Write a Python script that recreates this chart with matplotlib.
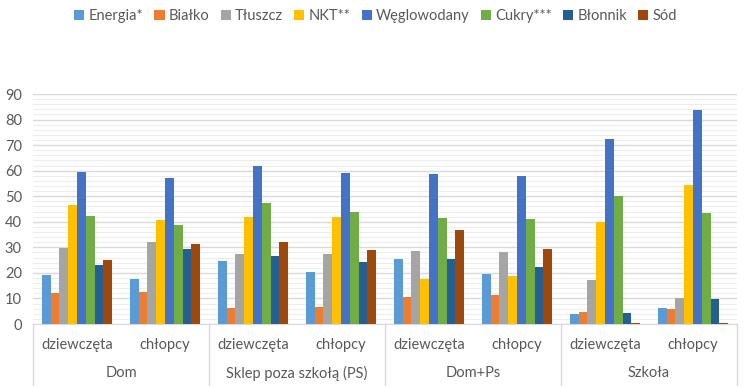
import numpy as np
import matplotlib
matplotlib.use("Agg")
import matplotlib.pyplot as plt
from matplotlib.ticker import MultipleLocator

plt.rcParams.update({
    "font.size": 10,
    "font.family": ["Lato", "DejaVu Sans"],
})

# -------- data --------
groups = ["Dom", "Sklep poza szkołą (PS)", "Dom+Ps", "Szkoła"]
subgroups = ["dziewczęta", "chłopcy"]
series_names = ["Energia*", "Białko", "Tłuszcz", "NKT**", "Węglowodany",
                "Cukry***", "Błonnik", "Sód"]

# one list per series, 8 values: (Dom d, Dom c, PS d, PS c, Dom+Ps d, Dom+Ps c, Szkoła d, Szkoła c)
energia = [19.0, 17.8, 24.8, 20.5, 25.4, 19.4, 4.0, 6.3]
bialko = [12.0, 12.6, 6.2, 6.5, 10.5, 11.5, 4.8, 5.8]
tluszcz = [29.8, 32.0, 27.3, 27.5, 28.4, 28.1, 17.4, 10.0]
nkt = [46.6, 40.8, 41.8, 41.8, 17.8, 18.9, 39.8, 54.4]
weglowodany = [59.6, 57.0, 62.0, 59.1, 58.6, 57.9, 72.4, 83.7]
cukry = [42.2, 38.7, 47.4, 43.9, 41.6, 40.9, 49.9, 43.5]
blonnik = [23.0, 29.4, 26.7, 24.1, 25.5, 22.4, 4.5, 9.9]
sod = [25.1, 31.4, 32.0, 29.0, 36.8, 29.3, 0.3, 0.3]

values = [energia, bialko, tluszcz, nkt, weglowodany, cukry, blonnik, sod]
colors = ["#5B9BD5", "#ED7D31", "#A5A5A5", "#FFC000", "#4472C4",
          "#70AD47", "#255E91", "#9E480E"]

text_color = "#595959"

fig = plt.figure(figsize=(7.44, 3.86), dpi=100)
ax = fig.add_axes([33 / 744, 62 / 386, 704 / 744, 230 / 386])

x = np.arange(len(groups) * len(subgroups))
w = 0.1
for i, (vals, name, c) in enumerate(zip(values, series_names, colors)):
    ax.bar(x + (i - 3.5) * w, vals, width=w, color=c, label=name, zorder=3)

ax.set_xlim(-0.5, len(x) - 0.5)
ax.set_ylim(0, 90)
ax.yaxis.set_major_locator(MultipleLocator(10))
ax.yaxis.set_minor_locator(MultipleLocator(2))
ax.grid(axis="y", which="major", color="#D9D9D9", linewidth=1.0, zorder=0)
ax.grid(axis="y", which="minor", color="#EDEDED", linewidth=0.8, zorder=0)
ax.tick_params(axis="y", which="both", length=0, colors=text_color,
               labelsize=10.5, pad=8)
ax.set_xticks([])
for s in ["top", "right", "left"]:
    ax.spines[s].set_visible(False)
ax.spines["bottom"].set_color("#D9D9D9")

# -------- two-level category axis --------
trans = ax.get_xaxis_transform()
for xi in x:
    ax.text(xi, -0.092, subgroups[xi % 2], transform=trans, ha="center",
            va="center", color=text_color, fontsize=10.5)
for gi, g in enumerate(groups):
    ax.text(gi * 2 + 0.5, -0.213, g, transform=trans, ha="center",
            va="center", color=text_color, fontsize=10.5)
for b in np.arange(-0.5, len(x), 2):
    ax.plot([b, b], [0, -0.28], transform=trans, color="#D9D9D9",
            linewidth=1.0, clip_on=False)

fig.legend(loc="upper center", bbox_to_anchor=(0.505, 1.01), ncol=8,
           frameon=False, handlelength=0.7, handleheight=0.7,
           handletextpad=0.3, columnspacing=0.75, fontsize=10.5,
           labelcolor=text_color)

fig.savefig("out.png", dpi=100)
